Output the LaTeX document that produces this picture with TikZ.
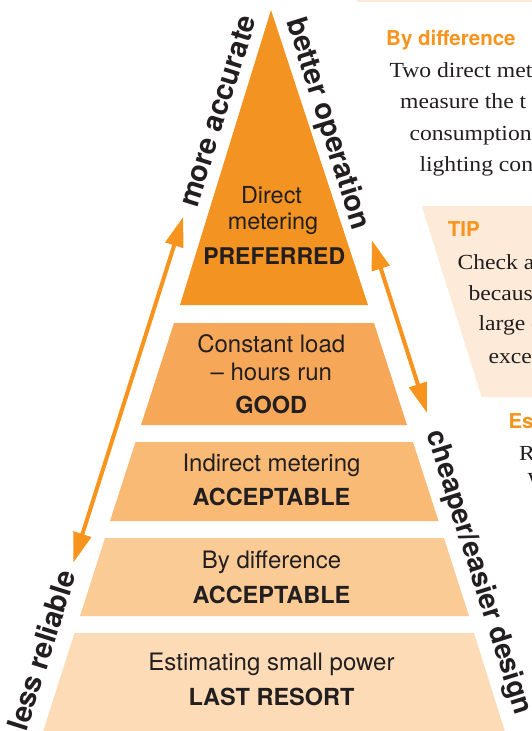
\documentclass[tikz,border=0pt]{standalone}
\usepackage{fontspec}
\setmainfont{TeX Gyre Heros}
\newfontfamily\bodyserif[FakeStretch=1.1]{Liberation Serif}
\usetikzlibrary{arrows.meta}
\definecolor{tierA}{RGB}{243,147,33}
\definecolor{tierB}{RGB}{246,168,88}
\definecolor{tierC}{RGB}{249,186,118}
\definecolor{tierD}{RGB}{251,203,150}
\definecolor{tierE}{RGB}{252,219,182}
\definecolor{panel}{RGB}{253,234,216}
\definecolor{accent}{RGB}{247,148,29}
\definecolor{ink}{RGB}{35,31,32}
\begin{document}
\begin{tikzpicture}[x=1pt,y=-1pt,
  tiertext/.style={font=\fontsize{24}{28}\selectfont, text=ink, anchor=base, inner sep=0pt},
  tierbold/.style={tiertext, font=\fontsize{23.5}{28}\selectfont\bfseries},
  sidetext/.style={font=\fontsize{29}{29}\selectfont\bfseries, text=ink, anchor=base, inner sep=0pt},
  headtext/.style={font=\fontsize{20.5}{24}\selectfont\bfseries, text=accent, anchor=base west, inner sep=0pt},
  bodytext/.style={font=\bodyserif\fontsize{21.5}{25}\selectfont, text=ink, anchor=base west, inner sep=0pt},
  dblarrow/.style={draw=accent, line width=4pt, {Triangle[length=30pt,width=18pt]}-{Triangle[length=30pt,width=18pt]}}]
\useasboundingbox (0,0) rectangle (532,731);
\clip (0,0) rectangle (532,731);
% right-hand panels
\fill[panel] (357,-5) rectangle (540,1.5);
\fill[panel] (421.7,206) -- (540,206) -- (540,397) -- (481.7,397) -- cycle;
% pyramid tiers
\fill[tierA] (271,10) -- (368,305) -- (180,305) -- cycle;
\fill[tierB] (174,323) -- (374,323) -- (407,425) -- (141,425) -- cycle;
\fill[tierC] (135.5,442) -- (413,442) -- (438.5,521) -- (110,521) -- cycle;
\fill[tierD] (105,538) -- (444,538) -- (469,616) -- (80,616) -- cycle;
\fill[tierE] (74.5,633) -- (474,633) -- (506,735) -- (42,735) -- cycle;
% tier texts
\node[tiertext, font=\fontsize{23.4}{28}\selectfont] (t1a) at (271.5,203.3) {Direct};
\node[tiertext, font=\fontsize{23.4}{28}\selectfont] (t1b) at (273,229) {metering};
\node[tierbold, font=\fontsize{23}{28}\selectfont\bfseries] (t1c) at (274.2,264.3) {PREFERRED};
\node[tiertext] (t2a) at (271.3,352.7) {Constant load};
\node[tiertext] (t2b) at (271.3,380) {– hours run};
\node[tierbold] (t2c) at (271.3,413.3) {GOOD};
\node[tiertext] (t3a) at (271.5,471.7) {Indirect metering};
\node[tierbold] (t3b) at (271.5,505) {ACCEPTABLE};
\node[tiertext] (t4a) at (271.5,568) {By difference};
\node[tierbold] (t4b) at (271.5,603) {ACCEPTABLE};
\node[tiertext] (t5a) at (271.5,670.7) {Estimating small power};
\node[tierbold] (t5b) at (271.5,705) {LAST RESORT};
% side texts
\node[sidetext, rotate=72.5] (s1) at (227,114) {more accurate};
\node[sidetext, rotate=-72.5] (s2) at (320,126.5) {better operation};
\node[sidetext, rotate=-72.5, font=\fontsize{28.2}{28}\selectfont\bfseries] (s3) at (471,575) {cheaper/easier design};
\node[sidetext, rotate=72.5] (s4) at (51.6,653.3) {less reliable};
% arrows
\coordinate (la1) at (183.3,216.7);
\coordinate (la2) at (73.3,562.7);
\coordinate (ra1) at (371.7,240);
\coordinate (ra2) at (427,413);
\draw[dblarrow] (la1) -- (la2);
\draw[dblarrow] (ra1) -- (ra2);
% right-hand column text
\node[headtext] (h1) at (386,45) {By difference};
\node[bodytext] (b1) at (389.3,77.3) {Two direct met};
\node[bodytext] (b2) at (400,108) {measure the t};
\node[bodytext] (b3) at (409.3,140) {consumption};
\node[bodytext] (b4) at (419.3,171.7) {lighting con};
\node[headtext] (h2) at (447.7,236.7) {TIP};
\node[bodytext] (c1) at (457.3,269.3) {Check a};
\node[bodytext] (c2) at (468.3,300.7) {because};
\node[bodytext] (c3) at (478.3,330.7) {large c};
\node[bodytext] (c4) at (488.3,363.3) {excee};
\node[headtext] (h3) at (508.3,428) {Es};
\node[bodytext] (d1) at (519,460) {R};
\node[bodytext] (d2) at (527.3,487) {W};
\end{tikzpicture}
\end{document}
